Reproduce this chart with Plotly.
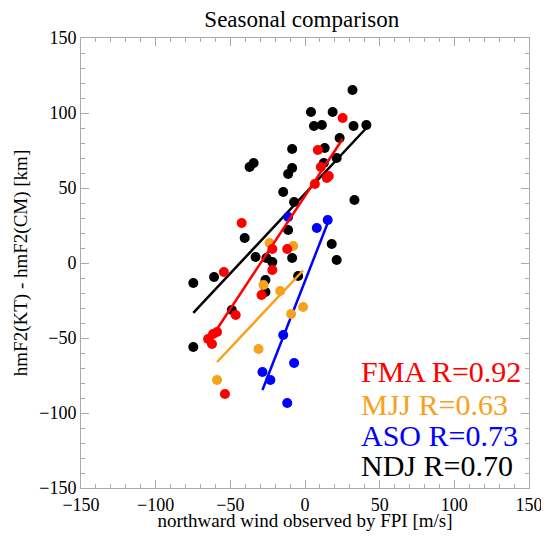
import plotly.graph_objects as go

# FMA (red)
fmaX = [25.2, 8.6, 10.6, 14.6, 15.9, 6.6, -42.4, -21.9, -11.9, -21.9, -54.3, -29.1, -46.4, -58.9, -61.6, -64.9, -62.3, -53.6]
fmaY = [96.7, 75.3, 64.0, 56.7, 58.0, 52.7, 26.7, 9.3, 9.3, -4.7, -6.0, -21.3, -34.7, -46.0, -47.3, -50.7, -54.0, -87.3]
fmaLineX = [-58.9, 25.2]
fmaLineY = [-44.0, 82.7]

# MJJ (orange)
mjjX = [-23.8, -7.9, -27.8, -16.6, -1.3, -9.3, -31.1, -58.9]
mjjY = [13.3, 11.3, -14.7, -18.7, -29.3, -34.0, -57.3, -78.0]
mjjLineX = [-58.9, -1.3]
mjjLineY = [-66.0, -5.0]

# ASO (blue)
asoX = [-11.3, 7.9, 15.2, -14.6, -7.3, -28.5, -23.2, -11.9]
asoY = [30.7, 23.3, 28.7, -48.0, -66.7, -72.7, -78.0, -93.3]
asoLineX = [-28.5, 15.2]
asoLineY = [-84.7, 26.7]

# NDJ (black)
ndjX = [31.8, 4.0, 18.5, 6.0, 11.3, 32.5, 41.1, 23.2, -8.6, 13.2, 12.6, 21.2, -37.1, -34.4, -8.6, -11.3,
        -14.6, -7.3, 33.1, -40.4, -11.3, 17.9, 21.2, -33.1, -25.8, -21.9, -8.6, -74.8, -60.9, -4.6,
        -26.5, -26.5, -49.0, -74.8]
ndjY = [115.3, 100.7, 100.7, 91.3, 92.0, 91.3, 92.0, 83.3, 76.0, 76.7, 66.7, 70.0, 64.0, 66.7, 63.3, 59.3,
        47.3, 40.7, 42.0, 16.7, 22.0, 12.7, 2.0, 4.0, 3.3, 0.7, 3.3, -13.3, -9.3, -8.7,
        -11.3, -19.3, -31.3, -56.0]
ndjLineX = [-74.8, 41.1]
ndjLineY = [-33.3, 90.0]

labels = ['FMA R=0.92', 'MJJ R=0.63', 'ASO R=0.73', 'NDJ R=0.70']
labelY = [-72, -94, -115, -135]

red = '#ff0000'
orange = '#f7a21b'
blue = '#0000ff'
black = '#000000'
serif = 'Liberation Serif, Times New Roman, serif'

fig = go.Figure()
# black first, then blue, orange, red on top
for xs, ys, lx, ly, col in [
        (ndjX, ndjY, ndjLineX, ndjLineY, black),
        (asoX, asoY, asoLineX, asoLineY, blue),
        (mjjX, mjjY, mjjLineX, mjjLineY, orange),
        (fmaX, fmaY, fmaLineX, fmaLineY, red)]:
	fig.add_trace(go.Scatter(x=xs, y=ys, mode='markers', marker=dict(color=col, size=10), showlegend=False))
	fig.add_trace(go.Scatter(x=lx, y=ly, mode='lines', line=dict(color=col, width=2.5), showlegend=False))

for txt, yy, col in zip(labels, labelY, [red, orange, blue, black]):
	fig.add_annotation(x=36, y=yy, text=txt, showarrow=False, xanchor='left', yanchor='middle',
	                   font=dict(family=serif, size=30, color=col))

axisStyle = dict(range=[-150, 150], dtick=50, showline=True, linecolor='#aaaaaa', linewidth=1, mirror='ticks',
                 ticks='inside', ticklen=8, tickcolor='#aaaaaa', showgrid=False, zeroline=False, automargin=False,
                 ticklabeloverflow='allow',
                 minor=dict(dtick=10, ticks='inside', ticklen=4, tickcolor='#aaaaaa'),
                 tickfont=dict(family=serif, size=18, color='black'))

# page body adds an 8px margin, so the figure is drawn a little smaller
fig.update_layout(
	width=541, height=523,
	margin=dict(l=73, r=20, t=30, b=43),
	paper_bgcolor='white', plot_bgcolor='white',
	title=dict(text='Seasonal comparison', x=0.543, xanchor='center', y=0.995, yanchor='top', automargin=False,
	           font=dict(family=serif, size=23, color='black')),
	xaxis=dict(axisStyle, title=dict(text='northward wind observed by FPI [m/s]', standoff=5,
	           font=dict(family=serif, size=19, color='black'))),
	yaxis=dict(axisStyle, title=dict(text='hmF2(KT) - hmF2(CM) [km]', standoff=6,
	           font=dict(family=serif, size=19, color='black'))),
)

fig.write_html("out.html")
